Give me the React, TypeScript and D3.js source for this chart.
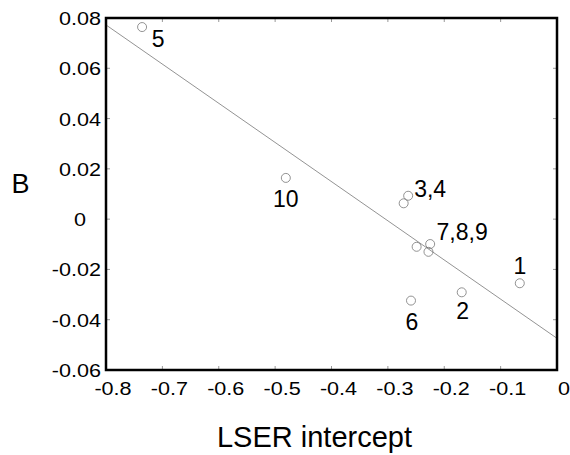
import * as d3 from "d3";
import { ReactElement } from "react";

// compound ids (1..10) with their LSER intercept and B values
const compoundIds = ["1", "2", "3", "4", "5", "6", "7", "8", "9", "10"];
const lserIntercept = [-0.066, -0.169, -0.264, -0.272, -0.736, -0.259, -0.249, -0.225, -0.228, -0.481];
const bValues = [-0.0255, -0.0291, 0.0093, 0.0063, 0.0764, -0.0324, -0.011, -0.0099, -0.013, 0.0164];

// labels drawn next to points (several compounds share one label)
const labelTexts = ["1", "2", "3,4", "5", "6", "7,8,9", "10"];
const labelAnchorIds = ["1", "2", "3", "5", "6", "8", "10"];

// fitted line B = slope * x + intercept
const fitSlope = -0.1558;
const fitIntercept = -0.0474;

const xTicks = [-0.8, -0.7, -0.6, -0.5, -0.4, -0.3, -0.2, -0.1, 0];
const yTicks = [0.08, 0.06, 0.04, 0.02, 0, -0.02, -0.04, -0.06];

// pixel offsets of the labels from their anchor points (layout only)
const labelOffsets: Record<string, [number, number]> = {
    "1": [0, -17],
    "2": [1, 19],
    "3,4": [22, -7],
    "5": [16, 12],
    "6": [1, 21],
    "7,8,9": [32, -12],
    "10": [0, 21],
};

const width = 570;
const height = 455;
const margin = { top: 18, right: 13, bottom: 85, left: 106 };
const font = "'Liberation Sans', Arial, sans-serif";
const tickStretch = 1.2;

const fmt = (t: number) => d3.format("")(t).replace("−", "-");

const App = (): ReactElement => {
    const x = d3.scaleLinear().domain([-0.8, 0]).range([margin.left, width - margin.right]);
    const y = d3.scaleLinear().domain([-0.06, 0.08]).range([height - margin.bottom, margin.top]);

    const [x0, x1] = x.range();
    const [y0, y1] = y.range();

    const fitLine = d3.line<number>()
        .x((d) => x(d))
        .y((d) => y(fitSlope * d + fitIntercept));

    const tickLen = 4;

    return (
        <svg width={width} height={height} style={{ position: "absolute", left: 0, top: 0, background: "#fff" }}>
            {/* tick marks, inward on all four sides */}
            <g stroke="#999" strokeWidth={1}>
                {xTicks.map((t) => (
                    <g key={"xt" + t}>
                        <line x1={x(t)} x2={x(t)} y1={y0} y2={y0 - tickLen} />
                        <line x1={x(t)} x2={x(t)} y1={y1} y2={y1 + tickLen} />
                    </g>
                ))}
                {yTicks.map((t) => (
                    <g key={"yt" + t}>
                        <line x1={x0} x2={x0 + tickLen} y1={y(t)} y2={y(t)} />
                        <line x1={x1} x2={x1 - tickLen} y1={y(t)} y2={y(t)} />
                    </g>
                ))}
            </g>

            {/* regression line */}
            <path d={fitLine(x.domain()) ?? ""} fill="none" stroke="#777" strokeWidth={0.8} />

            {/* points */}
            {compoundIds.map((id, i) => (
                <circle key={id} cx={x(lserIntercept[i])} cy={y(bValues[i])} r={4.5}
                    fill="none" stroke="#777" strokeWidth={0.8} />
            ))}

            {/* point labels */}
            {labelTexts.map((txt, i) => {
                const idx = compoundIds.indexOf(labelAnchorIds[i]);
                const [dx, dy] = labelOffsets[txt];
                return (
                    <text key={txt} x={x(lserIntercept[idx]) + dx} y={y(bValues[idx]) + dy}
                        textAnchor="middle" dominantBaseline="central"
                        fontFamily={font} fontSize={23} fill="#000">{txt}</text>
                );
            })}

            {/* frame */}
            <rect x={x0} y={y1} width={x1 - x0} height={y0 - y1} fill="none" stroke="#000" strokeWidth={2.5} />

            {/* x tick labels */}
            {xTicks.map((t) => (
                <text key={"xl" + t} transform={`translate(${x(t) + 7},${y0 + 25}) scale(${tickStretch},1)`}
                    textAnchor="middle" fontFamily={font} fontSize={18}>
                    {fmt(t)}
                </text>
            ))}

            {/* y tick labels */}
            {yTicks.map((t) => (
                <text key={"yl" + t} transform={`translate(${t === 0 ? 80 : x0 - 5},${y(t) + 7}) scale(${tickStretch},1)`}
                    textAnchor={t === 0 ? "middle" : "end"} fontFamily={font} fontSize={18}>
                    {fmt(t)}
                </text>
            ))}

            {/* axis titles */}
            <text x={(x0 + x1) / 2 - 17} y={447} textAnchor="middle"
                fontFamily={font} fontSize={29}>LSER intercept</text>
            <text x={20.5} y={193} textAnchor="middle"
                fontFamily={font} fontSize={27}>B</text>
        </svg>
    );
};

export default App;
